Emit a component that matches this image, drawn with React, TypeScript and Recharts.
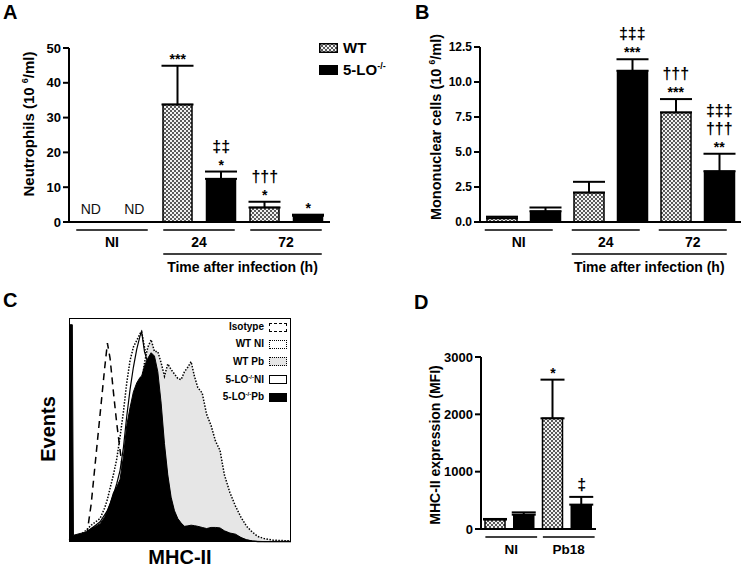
import React from 'react';
import {
  ComposedChart,
  Bar,
  Line,
  Area,
  XAxis,
  YAxis,
  ErrorBar,
  Cell,
  LabelList,
} from 'recharts';

const FONT = '"Liberation Sans", Arial, Helvetica, sans-serif';

// bars alternate WT / 5-LO-/- inside each group
const timeGroups = ['NI', '24', '72'];
const mfiGroups = ['NI', 'Pb18'];

// A: neutrophils (10^6/ml)
const neutrophilMean = [0, 0, 33.8, 12.4, 4.2, 1.8];
const neutrophilSem = [0, 0, 11.1, 2.1, 1.6, 0.3];
const neutrophilStars = ['ND', 'ND', '***', '*', '*', '*'];
const neutrophilDaggers: string[][] = [[], [], [], ['‡‡'], ['†††'], []];
const neutrophilTicks = [0, 10, 20, 30, 40, 50];

// B: mononuclear cells (10^6/ml)
const mononuclearMean = [0.27, 0.76, 2.1, 10.8, 7.83, 3.63];
const mononuclearSem = [0.11, 0.27, 0.77, 0.82, 0.95, 1.25];
const mononuclearStars = ['', '', '', '***', '***', '**'];
const mononuclearDaggers: string[][] = [[], [], [], ['‡‡‡'], ['†††'], ['†††', '‡‡‡']];
const mononuclearTicks = [0, 2.5, 5, 7.5, 10, 12.5];

// D: MHC-II expression (MFI)
const mfiMean = [165, 250, 1930, 425];
const mfiSem = [10, 40, 675, 135];
const mfiStars = ['', '', '*', ''];
const mfiDaggers: string[][] = [[], [], [], ['‡']];
const mfiTicks = [0, 1000, 2000, 3000];

// C: MHC-II histogram (arbitrary units, 0-100 on both axes)
const mhcBins = [0, 1.5, 2, 5, 8, 10, 12, 14, 16, 17.3, 18.5, 20, 21.5, 23, 24.5, 26, 27.5, 29, 30.5, 32, 32.7, 34, 35.5, 37, 38.5, 40, 41.5, 43, 44.5, 46, 47.5, 49, 50.5, 52, 53.5, 55, 56.5, 58, 60, 62, 64, 66, 68, 70, 72.5, 75, 77.5, 80, 82.5, 85, 88, 92, 100];
const isotypeEvents = [null, null, null, null, 3, 17, 37, 57, 77, 88.8, 82, 67, 53, 41, 30, 20, 12, 7, 4, null, null, null, null, null, null, null, null, null, null, null, null, null, null, null, null, null, null, null, null, null, null, null, null, null, null, null, null, null, null, null, null, null, null];
const wtNiEvents = [1, 1.5, 1.5, 3, 5.5, 7.5, 9, 10.5, 15, 19, 24, 30, 37, 47, 58, 71, 81, 87, 90, 93, 94, 87, 80, 74, 68, 58, 45, 34, 25, 18, 13, 10, 8, 7, 6, 5.5, 5, 5, 4.5, 4.5, 4, 4, 3.5, 3, 2.5, 2, 1.5, 1, 0.8, 0.5, 0.4, 0.3, 0.3];
const wtPbEvents = [0.5, 0.5, 0.5, 1, 2, 3, 4, 5.5, 7.5, 9, 11, 14, 18, 24, 32, 42, 52, 60, 65, 69, 71, 80, 87, 90.3, 85, 85, 80, 74, 79.5, 77, 75, 73, 72.5, 76, 78, 80.5, 74, 69, 66.5, 57, 52, 45, 41, 30, 22, 16, 11, 7, 4.5, 2.5, 1.5, 0.8, 0.5];
const loNiEvents = [1, 1, 1, 2.5, 4.5, 6, 7.5, 9, 12, 14, 17, 21, 26, 32, 42, 56, 68, 78, 86, 92, 94, 85, 80, 78, 76, 68, 55, 40, 27, 18, 13, 9.5, 8, 6.5, 6.5, 6.5, 6.5, 6.3, 6, 5.5, 5.8, 5.8, 5.5, 4.5, 3.5, 3, 1.8, 0.8, 0.4, 0.2, 0.2, 0.2, 0.2];
const loPbEvents = [97, 97, 3, 3.8, 4.5, 6, 7, 8.2, 11, 14, 17, 22, 24.5, 28, 38, 52, 60, 67, 71, 73.5, 74, 78.5, 82, 84.5, 83, 76, 62, 44, 30, 20, 14, 10.5, 8.5, 7, 7.2, 7.5, 7.3, 7, 6.5, 6, 6.5, 6.5, 6.3, 5, 4, 3.5, 2, 1, 0.5, 0.3, 0.2, 0.2, 0.2];

type Margin = { top: number; right: number; bottom: number; left: number };

type BarPanelProps = {
  left: number;
  top: number;
  width: number;
  height: number;
  margin: Margin;
  yWidth: number;
  xHeight: number;
  means: number[];
  sems: number[];
  stars: string[];
  daggers: string[][];
  ticks: number[];
  decimals: number;
  tickFont: number;
  groups: string[];
  pad: [number, number];
  labelFont: number;
  showTime: boolean;
  barSize: number;
  capWidth: number;
  patternId: string;
};

function BarPanel(p: BarPanelProps) {
  const n = p.means.length;
  const plotLeft = p.margin.left + p.yWidth;
  const plotRight = p.width - p.margin.right;
  const band = (plotRight - plotLeft) / n;
  const plotBottom = p.height - p.margin.bottom - p.xHeight;
  const data = p.means.map((m, i) => ({
    key: `b${i}`,
    mean: m,
    err: [0, p.sems[i]],
    top: m + p.sems[i],
  }));

  const renderTick = (t: any) => {
    const i = t.index;
    const x = t.x;
    if (i % 2 !== 0) return <g />;
    const x1 = x - p.pad[0];
    const x2 = x + band + p.pad[1];
    const tx2 = x + 3 * band + p.pad[1];
    return (
      <g>
        <line x1={x1} x2={x2} y1={plotBottom + 8} y2={plotBottom + 8} stroke="#000" strokeWidth={1.5} />
        <text
          x={(x1 + x2) / 2}
          y={plotBottom + 20 + p.labelFont * 0.36}
          textAnchor="middle"
          fontSize={p.labelFont}
          fontWeight="bold"
          fill="#000"
        >
          {p.groups[i / 2]}
        </text>
        {p.showTime && i === 2 && (
          <g>
            <line x1={x1} x2={tx2} y1={plotBottom + 32} y2={plotBottom + 32} stroke="#000" strokeWidth={1.5} />
            <text
              x={(x1 + tx2) / 2}
              y={plotBottom + 45 + p.labelFont * 0.36}
              textAnchor="middle"
              fontSize={p.labelFont}
              fontWeight="bold"
              fill="#000"
            >
              Time after infection (h)
            </text>
          </g>
        )}
      </g>
    );
  };

  const renderMarks = (lp: any) => {
    const i = lp.index;
    const x = lp.x ?? lp.viewBox?.x;
    const y = lp.y ?? lp.viewBox?.y;
    const star = p.stars[i];
    if (star === 'ND') {
      return (
        <text x={x} y={plotBottom - 8} textAnchor="middle" fontSize={14} fill="#111">
          ND
        </text>
      );
    }
    const out: React.ReactNode[] = [];
    let c = y - 10;
    if (star) {
      out.push(
        <text key="s" x={x} y={c + 8} textAnchor="middle" fontSize={14} fontWeight="bold" fill="#000">
          {star}
        </text>,
      );
      c -= 14.5;
    } else {
      c = y - 11;
    }
    p.daggers[i].forEach((d, k) => {
      out.push(
        <text key={k} x={x} y={c + 4.5} textAnchor="middle" fontSize={16} fontWeight="bold" fill="#000">
          {d}
        </text>,
      );
      c -= 17.3;
    });
    return <g>{out}</g>;
  };

  return (
    <div style={{ position: 'absolute', left: p.left, top: p.top }}>
      <ComposedChart width={p.width} height={p.height} data={data} margin={p.margin}>
        <defs>
          <pattern id={p.patternId} width={4} height={4} patternUnits="userSpaceOnUse">
            <rect width={4} height={4} fill="#f2f2f2" />
            <rect width={2} height={2} fill="#5a5a5a" />
            <rect x={2} y={2} width={2} height={2} fill="#5a5a5a" />
          </pattern>
        </defs>
        <XAxis
          dataKey="key"
          interval={0}
          height={p.xHeight}
          axisLine={{ stroke: '#000', strokeWidth: 2 }}
          tickLine={false}
          tick={renderTick}
        />
        <YAxis
          type="number"
          domain={[0, p.ticks[p.ticks.length - 1]]}
          ticks={p.ticks}
          interval={0}
          width={p.yWidth}
          axisLine={{ stroke: '#000', strokeWidth: 2 }}
          tickLine={{ stroke: '#000', strokeWidth: 2 }}
          tickSize={6}
          tickMargin={2}
          tick={{ fill: '#000', fontSize: p.tickFont, fontWeight: 'bold' }}
          tickFormatter={(v: number) => v.toFixed(p.decimals)}
        />
        <Bar dataKey="mean" barSize={p.barSize} stroke="#000" strokeWidth={1.5} isAnimationActive={false}>
          {data.map((d, i) => (
            <Cell key={d.key} fill={i % 2 === 0 ? `url(#${p.patternId})` : '#000'} />
          ))}
          <ErrorBar dataKey="err" width={p.capWidth} stroke="#000" strokeWidth={2} direction="y" />
        </Bar>
        <Line dataKey="top" stroke="none" dot={false} activeDot={false} isAnimationActive={false}>
          <LabelList dataKey="top" content={renderMarks} />
        </Line>
      </ComposedChart>
    </div>
  );
}

function Rotated({ x, y, size, children }: { x: number; y: number; size: number; children: React.ReactNode }) {
  return (
    <div
      style={{
        position: 'absolute',
        left: x,
        top: y,
        transform: 'translate(-50%, -50%) rotate(-90deg)',
        whiteSpace: 'nowrap',
        fontSize: size,
        fontWeight: 'bold',
        lineHeight: 1,
      }}
    >
      {children}
    </div>
  );
}

function Letter({ x, y, text }: { x: number; y: number; text: string }) {
  return (
    <div style={{ position: 'absolute', left: x, top: y, fontSize: 20, fontWeight: 'bold', lineHeight: 1 }}>
      {text}
    </div>
  );
}

const sup: React.CSSProperties = { fontSize: '0.6em', verticalAlign: 'super', lineHeight: 0 };

function HistLegendRow({ y, swatch, children }: { y: number; swatch: React.CSSProperties; children: React.ReactNode }) {
  return (
    <div style={{ position: 'absolute', left: 170, top: y - 6, width: 117, height: 12, display: 'flex', alignItems: 'center', justifyContent: 'flex-end' }}>
      <span style={{ fontSize: 10, fontWeight: 'bold', whiteSpace: 'nowrap', lineHeight: 1 }}>{children}</span>
      <span style={{ display: 'inline-block', width: 18, height: 9, marginLeft: 5, boxSizing: 'border-box', ...swatch }} />
    </div>
  );
}

function Histogram() {
  const data = mhcBins.map((b, i) => ({
    bin: b,
    iso: isotypeEvents[i],
    wtNi: wtNiEvents[i],
    wtPb: wtPbEvents[i],
    loNi: loNiEvents[i],
    loPb: loPbEvents[i],
  }));
  return (
    <div style={{ position: 'absolute', left: 0, top: 290 }}>
      <ComposedChart width={373} height={280} data={data} margin={{ top: 28, right: 82, bottom: 28, left: 69 }}>
        <XAxis type="number" dataKey="bin" domain={[0, 100]} hide width={0} height={0} />
        <YAxis type="number" domain={[0, 100]} hide width={0} />
        <Area dataKey="iso" type="linear" fill="none" stroke="#000" strokeWidth={1.5} strokeDasharray="7 5" dot={false} activeDot={false} isAnimationActive={false} />
        <Area dataKey="wtNi" type="linear" fill="none" stroke="#000" strokeWidth={1.5} strokeDasharray="1.5 1.5" dot={false} activeDot={false} isAnimationActive={false} />
        <Area dataKey="wtPb" type="linear" fill="#e6e6e6" fillOpacity={1} stroke="#000" strokeWidth={1.5} strokeDasharray="1.5 1.5" dot={false} activeDot={false} isAnimationActive={false} />
        <Area dataKey="loNi" type="linear" fill="none" stroke="#000" strokeWidth={1.2} dot={false} activeDot={false} isAnimationActive={false} />
        <Area dataKey="loPb" type="linear" fill="#000" fillOpacity={1} stroke="#000" strokeWidth={1} dot={false} activeDot={false} isAnimationActive={false} />
      </ComposedChart>
    </div>
  );
}

export default function App() {
  return (
    <div
      style={{
        position: 'absolute',
        left: 0,
        top: 0,
        width: 746,
        height: 570,
        background: '#fff',
        fontFamily: FONT,
        color: '#000',
        overflow: 'hidden',
      }}
    >
      <BarPanel
        left={0}
        top={0}
        width={373}
        height={290}
        margin={{ top: 48, right: 43, bottom: 8, left: 29 }}
        yWidth={40}
        xHeight={60}
        means={neutrophilMean}
        sems={neutrophilSem}
        stars={neutrophilStars}
        daggers={neutrophilDaggers}
        ticks={neutrophilTicks}
        decimals={0}
        tickFont={13}
        groups={timeGroups}
        pad={[14.5, 13.5]}
        labelFont={14}
        showTime
        barSize={29}
        capWidth={16}
        patternId="checkA"
      />
      <BarPanel
        left={373}
        top={0}
        width={373}
        height={290}
        margin={{ top: 47, right: 5, bottom: 8, left: 67 }}
        yWidth={40}
        xHeight={60}
        means={mononuclearMean}
        sems={mononuclearSem}
        stars={mononuclearStars}
        daggers={mononuclearDaggers}
        ticks={mononuclearTicks}
        decimals={1}
        tickFont={12}
        groups={timeGroups}
        pad={[17, 7.5]}
        labelFont={14}
        showTime
        barSize={30}
        capWidth={16}
        patternId="checkB"
      />
      <BarPanel
        left={373}
        top={290}
        width={373}
        height={280}
        margin={{ top: 67, right: 150, bottom: 5, left: 58 }}
        yWidth={50}
        xHeight={36}
        means={mfiMean}
        sems={mfiSem}
        stars={mfiStars}
        daggers={mfiDaggers}
        ticks={mfiTicks}
        decimals={0}
        tickFont={13}
        groups={mfiGroups}
        pad={[10, 13]}
        labelFont={13.5}
        showTime={false}
        barSize={20}
        capWidth={12}
        patternId="checkD"
      />
      <Histogram />
      <div
        style={{
          position: 'absolute',
          left: 69,
          top: 318,
          width: 222,
          height: 224,
          border: '1px solid #000',
          boxSizing: 'border-box',
          pointerEvents: 'none',
        }}
      />

      <Letter x={3} y={2} text="A" />
      <Letter x={415} y={2} text="B" />
      <Letter x={3} y={290} text="C" />
      <Letter x={414} y={292} text="D" />

      <Rotated x={28} y={124} size={15}>
        Neutrophils (10 <span style={sup}>6</span>/ml)
      </Rotated>
      <Rotated x={436} y={127} size={14.5}>
        Mononuclear cells (10 <span style={sup}>6</span>/ml)
      </Rotated>
      <Rotated x={435} y={445} size={14}>
        MHC-II expression (MFI)
      </Rotated>
      <Rotated x={48} y={429} size={20}>
        Events
      </Rotated>
      <div style={{ position: 'absolute', left: 180, top: 557, transform: 'translate(-50%, -50%)', fontSize: 20, fontWeight: 'bold', lineHeight: 1 }}>
        MHC-II
      </div>

      {/* legend A */}
      <div style={{ position: 'absolute', left: 319, top: 40, display: 'flex', alignItems: 'center' }}>
        <svg width={19} height={10} style={{ display: 'block' }}>
          <rect x={0.75} y={0.75} width={17.5} height={8.5} fill="url(#checkA)" stroke="#000" strokeWidth={1.5} />
        </svg>
        <span style={{ marginLeft: 5, fontSize: 15, fontWeight: 'bold', lineHeight: 1 }}>WT</span>
      </div>
      <div style={{ position: 'absolute', left: 319, top: 62, display: 'flex', alignItems: 'center' }}>
        <span style={{ display: 'block', width: 19, height: 10, background: '#000' }} />
        <span style={{ marginLeft: 5, fontSize: 15, fontWeight: 'bold', lineHeight: 1, whiteSpace: 'nowrap' }}>
          5-LO<span style={sup}>-/-</span>
        </span>
      </div>

      {/* legend C */}
      <HistLegendRow y={327} swatch={{ border: '1.5px dashed #000' }}>Isotype</HistLegendRow>
      <HistLegendRow y={344} swatch={{ border: '1.5px dotted #000' }}>WT NI</HistLegendRow>
      <HistLegendRow y={361.5} swatch={{ border: '1.5px dotted #000', background: '#e6e6e6' }}>WT Pb</HistLegendRow>
      <HistLegendRow y={379.5} swatch={{ border: '1.5px solid #000', background: '#fff' }}>
        5-LO<span style={sup}>-/-</span>NI
      </HistLegendRow>
      <HistLegendRow y={397} swatch={{ background: '#000' }}>
        5-LO<span style={sup}>-/-</span>Pb
      </HistLegendRow>
    </div>
  );
}
